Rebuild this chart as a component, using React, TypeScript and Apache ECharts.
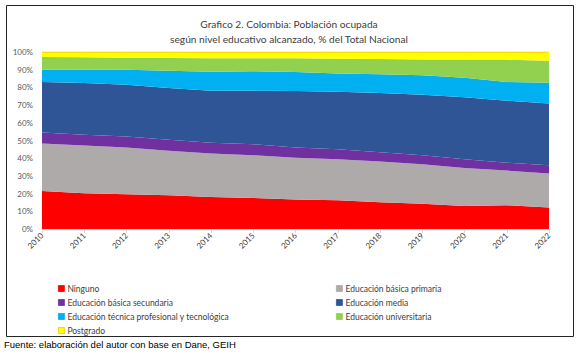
import React, { useEffect, useRef } from "react";
import * as echarts from "echarts";

const years = ["2010", "2011", "2012", "2013", "2014", "2015", "2016", "2017", "2018", "2019", "2020", "2021", "2022"];
const ninguno = [21.5, 20.2, 19.6, 19.1, 18.1, 17.5, 16.7, 16.2, 15.1, 14.2, 13.0, 13.4, 12.1];
const primaria = [26.8, 27.0, 26.4, 25.1, 24.5, 24.2, 23.6, 23.2, 23.0, 22.4, 21.5, 19.6, 19.2];
const secundaria = [6.2, 6.0, 6.3, 6.2, 6.1, 6.2, 5.8, 5.7, 5.3, 5.1, 4.9, 4.5, 4.7];
const media = [28.5, 29.3, 29.2, 29.2, 29.4, 30.2, 31.9, 32.4, 33.4, 34.1, 35.1, 35.0, 34.9];
const tecnica = [7.0, 7.5, 8.5, 9.8, 10.8, 11.0, 10.7, 10.4, 10.6, 11.0, 11.0, 10.5, 11.7];
const universitaria = [7.2, 7.0, 6.8, 7.2, 7.5, 7.3, 7.7, 8.3, 8.6, 9.0, 10.2, 12.7, 12.5];
const postgrado = [2.8, 3.0, 3.2, 3.4, 3.6, 3.6, 3.6, 3.8, 4.0, 4.2, 4.3, 4.3, 4.9];

const seriesDefs = [
  { name: "Ninguno", data: ninguno, color: "#FF0000", border: "#FF0000" },
  { name: "Educación básica primaria", data: primaria, color: "#AEAAAA", border: "#AEAAAA" },
  { name: "Educación básica secundaria", data: secundaria, color: "#7030A0", border: "#7030A0" },
  { name: "Educación media", data: media, color: "#2F5597", border: "#2F5597" },
  { name: "Educación técnica profesional y tecnológica", data: tecnica, color: "#00B0F0", border: "#00B0F0" },
  { name: "Educación universitaria", data: universitaria, color: "#92D050", border: "#92D050" },
  { name: "Postgrado", data: postgrado, color: "#FFFF00", border: "#FFC000" },
];

const FONT = "Lato, 'Open Sans', sans-serif";

export default function App() {
  const ref = useRef<HTMLDivElement>(null);
  useEffect(() => {
    document.body.style.margin = "0";
    const chart = echarts.init(ref.current!, null, { renderer: "svg" });
    const legendItem = (name: string, color: string, border: string) => ({
      name,
      itemStyle: { color, borderColor: border, borderWidth: 0.8 },
    });
    const byName = (n: string) => seriesDefs.find((s) => s.name === n)!;
    const leftNames = ["Ninguno", "Educación básica secundaria", "Educación técnica profesional y tecnológica", "Postgrado"];
    const rightNames = ["Educación básica primaria", "Educación media", "Educación universitaria"];
    const legendCommon = {
      orient: "vertical" as const,
      itemWidth: 6,
      itemHeight: 6,
      itemGap: 5,
      icon: "rect",
      textStyle: { fontFamily: FONT, fontSize: 8.5, color: "#404040", padding: [0, 0, 0, -2] },
      padding: 0,
    };
    chart.setOption({
      animation: false,
      backgroundColor: "#ffffff",
      title: {
        text: "Grafico 2. Colombia: Población ocupada\nsegún nivel educativo alcanzado, % del Total Nacional",
        left: "center",
        top: 11,
        textStyle: { fontFamily: FONT, fontSize: 10.2, fontWeight: "normal", color: "#404040", lineHeight: 15 },
      },
      grid: { left: 42, right: 29, top: 52, bottom: 127 },
      xAxis: {
        type: "category",
        data: years,
        boundaryGap: false,
        axisLine: { lineStyle: { color: "#D9D9D9" } },
        axisTick: { show: true, lineStyle: { color: "#D9D9D9" }, length: 4 },
        axisLabel: { rotate: 45, fontFamily: FONT, fontSize: 8, color: "#404040", margin: 5 },
      },
      yAxis: {
        type: "value",
        min: 0,
        max: 100,
        interval: 10,
        axisLine: { show: false },
        axisTick: { show: false },
        splitLine: { show: false },
        axisLabel: { formatter: "{value}%", fontFamily: FONT, fontSize: 8, color: "#595959", margin: 9 },
      },
      legend: [
        { ...legendCommon, left: 58, top: 284, data: leftNames.map((n) => legendItem(n, byName(n).color, byName(n).border)) },
        { ...legendCommon, left: 336, top: 284, data: rightNames.map((n) => legendItem(n, byName(n).color, byName(n).border)) },
      ],
      series: seriesDefs.map((s) => ({
        name: s.name,
        type: "line",
        stack: "total",
        data: s.data,
        symbol: "none",
        lineStyle: { width: s.name === "Postgrado" ? 1 : 0, color: s.border },
        areaStyle: { color: s.color, opacity: 1 },
        itemStyle: { color: s.color },
      })),
      graphic: [
        {
          type: "rect",
          left: 4,
          top: 3,
          shape: { x: 0, y: 0, width: 567, height: 331 },
          style: { fill: "none", stroke: "#262626", lineWidth: 1 },
          silent: true,
        },
        {
          type: "text",
          left: 4,
          top: 339,
          style: {
            text: "Fuente: elaboración del autor con base en Dane, GEIH",
            font: "9.5px 'Liberation Sans', Arial, sans-serif",
            fill: "#000000",
          },
        },
      ],
    });
    return () => chart.dispose();
  }, []);
  return <div ref={ref} style={{ width: 578, height: 356 }} />;
}
